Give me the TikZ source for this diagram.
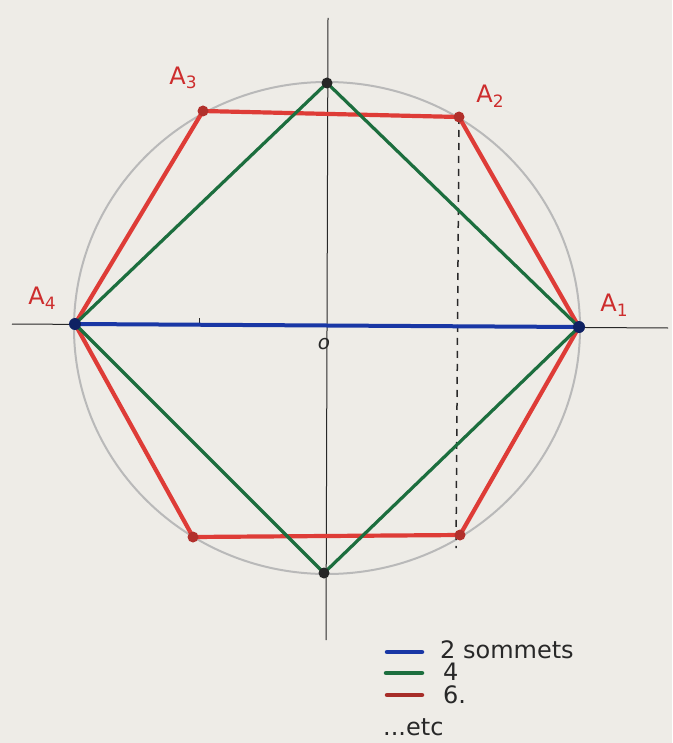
\documentclass[tikz,border=0pt]{standalone}
\usepackage{fontspec}
\setmainfont{DejaVu Sans}
\definecolor{paper}{RGB}{238,236,231}
\definecolor{hexred}{RGB}{222,60,55}
\definecolor{sqgreen}{RGB}{28,110,62}
\definecolor{diamblue}{RGB}{25,55,165}
\definecolor{circgray}{RGB}{185,185,185}
\definecolor{ink}{RGB}{40,40,40}
\definecolor{labred}{RGB}{205,45,45}
\newcommand{\vsub}[1]{\raisebox{-0.35ex}{\fontsize{17}{20}\selectfont #1}}
\begin{document}
\begin{tikzpicture}[x=1pt,y=-1pt,
  axis/.style={ink,line width=1pt},
  hexline/.style={hexred,line width=4.2pt,line join=round},
  sqline/.style={sqgreen,line width=3.2pt,line join=round},
  diamline/.style={diamblue,line width=4pt},
  vdot/.style={circle,inner sep=0pt,minimum size=11pt},
  lab/.style={labred,font=\fontsize{24}{28}\selectfont},
  legtxt/.style={ink,font=\fontsize{24}{28}\selectfont,anchor=west}]
\fill[paper] (0,0) rectangle (672,743);
\useasboundingbox (0,0) rectangle (672,743);
% axes
\draw[axis] (328,18) -- (326,640);
\draw[axis] (12,324) -- (668,328);
\draw[axis] (199,318) -- (199,326);
% circle
\draw[circgray,line width=2pt] (327,328) ellipse [x radius=253, y radius=246];
% vertices
\coordinate (A1) at (579,327);
\coordinate (A4) at (75,324);
\coordinate (T) at (327,83);
\coordinate (B) at (324,573);
\coordinate (A2) at (459,117);
\coordinate (A3) at (203,111);
\coordinate (A5) at (193,537);
\coordinate (A6) at (460,535);
% dashed projection
\draw[ink,line width=1.5pt,dash pattern=on 7pt off 6pt] (A2) -- (456,548);
% hexagon
\draw[hexline] (A1) -- (A2) -- (A3) -- (A4) -- (A5) -- (A6) -- cycle;
% square
\draw[sqline] (A1) -- (T) -- (A4) -- (B) -- cycle;
% diameter
\draw[diamline] (A4) -- (A1);
% dots
\node[vdot,fill=hexred!80!black] (d2) at (A2) {};
\node[vdot,fill=hexred!80!black] (d3) at (A3) {};
\node[vdot,fill=hexred!80!black] (d5) at (A5) {};
\node[vdot,fill=hexred!80!black] (d6) at (A6) {};
\node[vdot,fill=black!85] (dt) at (T) {};
\node[vdot,fill=black!85] (db) at (B) {};
\node[vdot,fill=diamblue!60!black,minimum size=12pt] (d1) at (A1) {};
\node[vdot,fill=diamblue!60!black,minimum size=12pt] (d4) at (A4) {};
% labels
\node[lab] (l3) at (183,78) {A\vsub{3}};
\node[lab] (l2) at (490,96) {A\vsub{2}};
\node[lab] (l4) at (42,298) {A\vsub{4}};
\node[lab] (l1) at (614,305) {A\vsub{1}};
\node[ink,font=\fontsize{20}{24}\itshape] (lo) at (324,344) {o};
% legend
\coordinate (b1) at (387,652); \coordinate (b2) at (422,652);
\coordinate (g1) at (386,673); \coordinate (g2) at (422,673);
\coordinate (r1) at (387,695); \coordinate (r2) at (422,695);
\draw[diamblue,line width=4.5pt,line cap=round] (b1) -- (b2);
\draw[sqgreen,line width=4.5pt,line cap=round] (g1) -- (g2);
\draw[hexred!75!black,line width=4.5pt,line cap=round] (r1) -- (r2);
\node[legtxt,inner sep=0pt] (t1) at (440,650) {2 sommets};
\node[legtxt,inner sep=0pt] (t2) at (443,672) {4};
\node[legtxt,inner sep=0pt] (t3) at (443,695) {6.};
\node[legtxt,inner sep=0pt] (t4) at (383,727) {...etc};
\end{tikzpicture}
\end{document}
